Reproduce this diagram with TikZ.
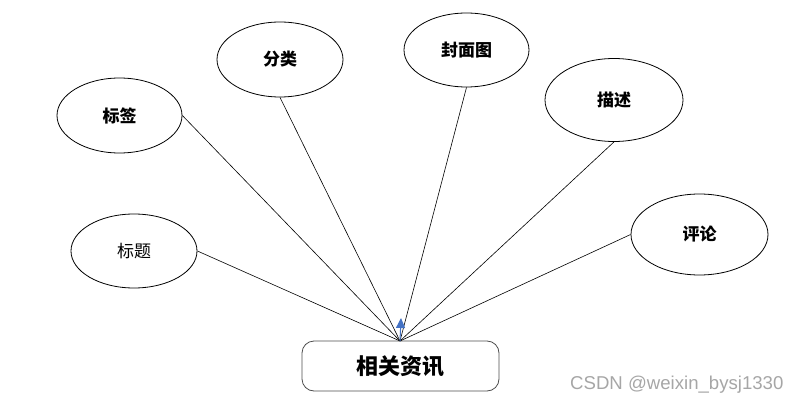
\documentclass[tikz,border=0pt]{standalone}
\usepackage{fontspec}
\newfontfamily\cjk{Noto Sans CJK SC}
\newfontfamily\wmfont{Liberation Sans}
\usetikzlibrary{shapes.geometric,arrows.meta}
\definecolor{arrowblue}{HTML}{4472C4}
\definecolor{wmgray}{HTML}{A6A6A6}
\tikzset{
  attr/.style={ellipse, draw=black, line width=0.8pt, inner sep=0pt, font=\cjk\bfseries\fontsize{17}{19}\selectfont},
  conn/.style={draw=black, line width=0.6pt},
}
\begin{document}
\begin{tikzpicture}[x=1pt,y=-1pt]
\useasboundingbox (0,0) rectangle (801,404);
\node[draw=black!70, line width=0.8pt, rounded corners=12pt, minimum width=197pt, minimum height=50pt, font=\cjk\bfseries\fontsize{22}{25}\selectfont] (main) at (400.5,366) {相关资讯};
\node[attr, minimum width=125pt, minimum height=75pt] (biaoqian) at (119.5,115.5) {标签};
\node[attr, minimum width=126pt, minimum height=75pt] (fenlei) at (280,59.5) {分类};
\node[attr, minimum width=125pt, minimum height=74pt] (fengmian) at (466.5,50) {封面图};
\node[attr, minimum width=138pt, minimum height=83pt] (miaoshu) at (614,100) {描述};
\node[attr, minimum width=126pt, minimum height=74pt, font=\cjk\fontsize{17}{19}\selectfont] (biaoti) at (134,251) {标题};
\node[attr, minimum width=137pt, minimum height=81pt] (pinglun) at (699.5,234.5) {评论};
\coordinate (hub) at (400,341);
\coordinate (tip) at (401,318);
\draw[conn] (biaoqian.east) -- (hub);
\draw[conn] (fenlei.south) -- (hub);
\draw[conn] (fengmian.south) -- (hub);
\draw[conn] (miaoshu.south) -- (hub);
\draw[conn] (pinglun.west) -- (hub);
\draw[conn] (biaoti.east) -- (hub);
\draw[arrowblue, line width=1pt, -{Triangle[length=10pt,width=9pt]}] (hub) -- (tip);
\node[anchor=base west, inner sep=0pt, text=wmgray, font=\wmfont\fontsize{18.6}{21}\selectfont] (wm) at (570,389) {CSDN @weixin\_bysj1330};
\end{tikzpicture}
\end{document}
